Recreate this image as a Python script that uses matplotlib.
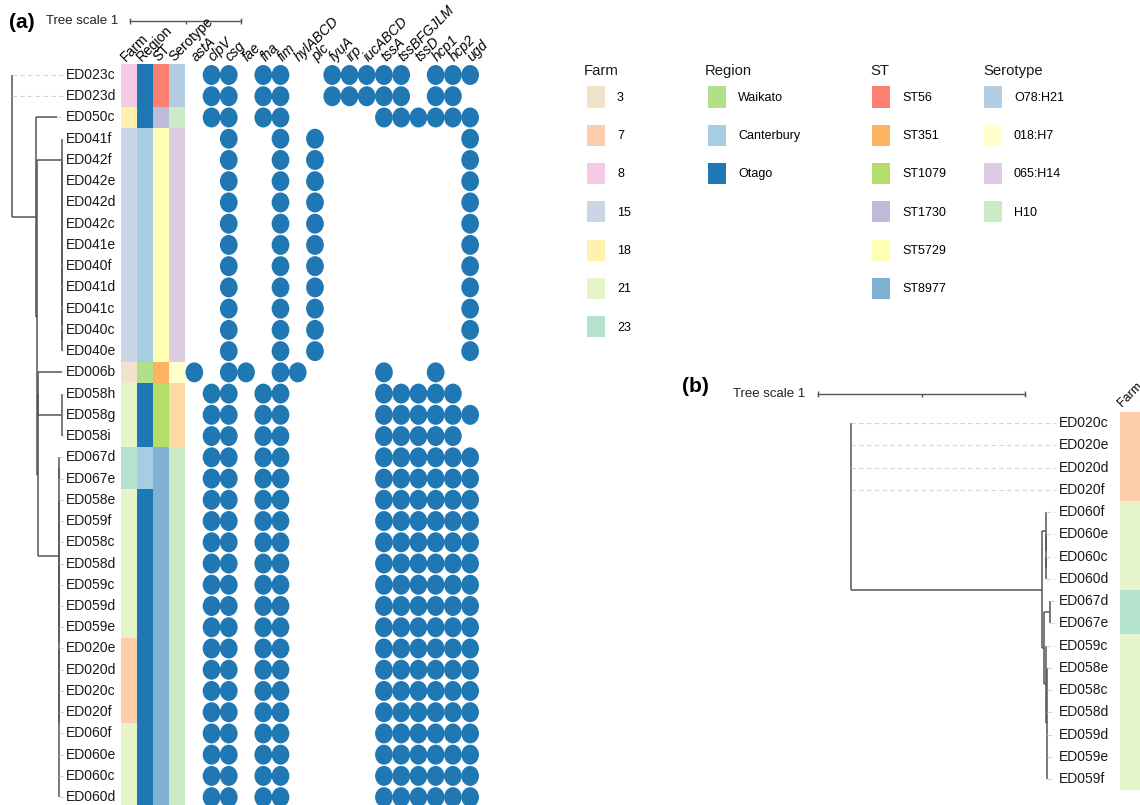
import matplotlib.pyplot as plt
from matplotlib.patches import Ellipse, Patch

plt.rcParams['font.family'] = ['Liberation Sans', 'DejaVu Sans']

# ---- panel (a) data ----
isolates_a = ['ED023c', 'ED023d', 'ED050c', 'ED041f', 'ED042f', 'ED042e', 'ED042d',
              'ED042c', 'ED041e', 'ED040f', 'ED041d', 'ED041c', 'ED040c', 'ED040e',
              'ED006b', 'ED058h', 'ED058g', 'ED058i', 'ED067d', 'ED067e', 'ED058e',
              'ED059f', 'ED058c', 'ED058d', 'ED059c', 'ED059d', 'ED059e', 'ED020e',
              'ED020d', 'ED020c', 'ED020f', 'ED060f', 'ED060e', 'ED060c', 'ED060d']
farm_a = ['8', '8', '18'] + ['15'] * 11 + ['3'] + ['21'] * 3 + ['23'] * 2 + ['21'] * 7 + ['7'] * 4 + ['21'] * 4
region_a = ['Otago'] * 3 + ['Canterbury'] * 11 + ['Waikato'] + ['Otago'] * 3 + ['Canterbury'] * 2 + ['Otago'] * 15
st_a = ['ST56', 'ST56', 'ST1730'] + ['ST5729'] * 11 + ['ST351'] + ['ST1079'] * 3 + ['ST8977'] * 17
serotype_a = ['O78:H21', 'O78:H21', 'H10'] + ['065:H14'] * 11 + ['018:H7'] + ['other'] * 3 + ['H10'] * 17

genes = ['astA', 'clpV', 'csg', 'fae', 'fha', 'fim', 'hylABCD', 'plc', 'fyuA', 'irp',
         'iucABCD', 'tssA', 'tssBFGJLM', 'tssD', 'hcp1', 'hcp2', 'ugd']

p_023c = ['clpV', 'csg', 'fha', 'fim', 'fyuA', 'irp', 'iucABCD', 'tssA', 'tssBFGJLM', 'hcp1', 'hcp2', 'ugd']
p_023d = ['clpV', 'csg', 'fha', 'fim', 'fyuA', 'irp', 'iucABCD', 'tssA', 'tssBFGJLM', 'hcp1', 'hcp2']
p_050c = ['clpV', 'csg', 'fha', 'fim', 'tssA', 'tssBFGJLM', 'tssD', 'hcp1', 'hcp2', 'ugd']
p_041 = ['csg', 'fim', 'plc', 'ugd']
p_006b = ['astA', 'csg', 'fae', 'fim', 'hylABCD', 'tssA', 'hcp1']
p_058 = ['clpV', 'csg', 'fha', 'fim', 'tssA', 'tssBFGJLM', 'tssD', 'hcp1', 'hcp2']
p_all = p_058 + ['ugd']
gene_sets_a = [p_023c, p_023d, p_050c] + [p_041] * 11 + [p_006b, p_058, p_all, p_058] + [p_all] * 17


def ladder(names, length):
    node = (names[-1], 0.0)
    for n in reversed(names[:-1]):
        node = ([(n, 0.0), node], 0.0)
    return (node[0], length)


def clade(names, length):
    return ([(n, 0.0) for n in names], length)


# tree: (name, branch length) for tips, ([children], branch length) for nodes
tree_a = ([
    ('ED023c', 0.0),
    ('ED023d', 0.0),
    ([
        ('ED050c', 0.19),
        ([
            ladder(isolates_a[3:14], 0.222),
            ([
                ([
                    ('ED006b', 0.21),
                    clade(['ED058h', 'ED058g', 'ED058i'], 0.21),
                ], 0.007),
                ([
                    clade(['ED067d', 'ED067e'], 0.0),
                    ([
                        clade(isolates_a[20:27], 0.0),
                        clade(isolates_a[27:35], 0.0),
                    ], 0.0),
                ], 0.193),
            ], 0.004),
        ], 0.014),
    ], 0.213),
], 0.0)

# ---- panel (b) data ----
isolates_b = ['ED020c', 'ED020e', 'ED020d', 'ED020f', 'ED060f', 'ED060e', 'ED060c',
              'ED060d', 'ED067d', 'ED067e', 'ED059c', 'ED058e', 'ED058c', 'ED058d',
              'ED059d', 'ED059e', 'ED059f']
farm_b = ['7'] * 4 + ['21'] * 4 + ['23'] * 2 + ['21'] * 7

tree_b = ([
    ('ED020c', 0.0),
    ('ED020e', 0.0),
    ('ED020d', 0.0),
    ('ED020f', 0.0),
    ([
        ladder(isolates_b[4:8], 0.019),
        ([
            clade(['ED067d', 'ED067e'], 0.03),
            ([
                ('ED059c', 0.0),
                clade(isolates_b[11:17], 0.007),
            ], 0.007),
        ], 0.01),
    ], 0.923),
], 0.0)

farm_colors = {'3': '#f1e2cc', '7': '#fdcdac', '8': '#f4cae4', '15': '#cbd5e8',
               '18': '#fff2ae', '21': '#e6f5c9', '23': '#b3e2cd'}
region_colors = {'Waikato': '#b2df8a', 'Canterbury': '#a6cee3', 'Otago': '#1f78b4'}
st_colors = {'ST56': '#fb8072', 'ST351': '#fdb462', 'ST1079': '#b3de69',
             'ST1730': '#bebada', 'ST5729': '#ffffb3', 'ST8977': '#80b1d3'}
sero_colors = {'O78:H21': '#b3cde3', '018:H7': '#ffffcc', '065:H14': '#decbe4', 'H10': '#ccebc5'}
sero_extra = {'other': '#fed9a6'}
DOT = '#1f78b4'
LINE = '#555555'

W, H = 1140, 805
fig = plt.figure(figsize=(W / 100, H / 100), dpi=100)


def px_axes(left, top, width, height):
    ax = fig.add_axes([left / W, 1 - (top + height) / H, width / W, height / H])
    ax.set_axis_off()
    return ax


def layout(node, x0, rows, segs):
    name, length = node
    x = x0 + length
    if isinstance(name, str):
        segs['tips'].append((name, x, rows[name]))
        return x, rows[name]
    kids = [layout(c, x, rows, segs) for c in name]
    segs['v'].append((x, kids[0][1], kids[-1][1]))
    for kx, ky in kids:
        if kx > x:
            segs['h'].append((ky, x, kx))
    return x, (kids[0][1] + kids[-1][1]) / 2


def draw_tree(ax, tree, order, label_x, guide_end, fs):
    rows = {n: i for i, n in enumerate(order)}
    segs = {'tips': [], 'v': [], 'h': []}
    layout(tree, 0.0, rows, segs)
    for x, y0, y1 in segs['v']:
        ax.vlines(x, y0, y1, color=LINE, lw=1.1)
    for y, x0, x1 in segs['h']:
        ax.hlines(y, x0, x1, color=LINE, lw=1.1)
    for name, x, y in segs['tips']:
        if x < guide_end:
            ax.plot([x, guide_end], [y, y], color='#d4d4d4', lw=0.8,
                    dashes=(4, 3), solid_capstyle='butt')
        ax.text(label_x, y, name, fontsize=fs, va='center', ha='left', color='#1a1a1a')


def draw_scale(ax, x0, y, tick, gap):
    ax.plot([x0, x0 + 1], [y, y], color=LINE, lw=1, clip_on=False)
    ax.vlines([x0, x0 + 1], y - tick, y + tick, color=LINE, lw=1, clip_on=False)
    ax.vlines(x0 + 0.5, y, y + tick, color=LINE, lw=1, clip_on=False)
    ax.text(x0 - gap, y, 'Tree scale 1', fontsize=9.5, ha='right', va='center',
            color='#222222', clip_on=False)


# ---- panel (a) ----
ROW_A = 21.24
n_a = len(isolates_a)
top_a = 75 - ROW_A / 2
UNIT_A = 111

ax_ta = px_axes(0, top_a, 121, n_a * ROW_A)
ax_ta.set_xlim(-12 / UNIT_A, 109 / UNIT_A)
ax_ta.set_ylim(n_a - 0.5, -0.5)
draw_tree(ax_ta, tree_a, isolates_a, 54 / UNIT_A, 52 / UNIT_A, 10)
draw_scale(ax_ta, 118 / UNIT_A, (21 - 75) / ROW_A, 3 / ROW_A, 12 / UNIT_A)
fig.text(9 / W, 1 - 22 / H, '(a)', fontsize=15, fontweight='bold', va='center')

ax_ma = px_axes(121, top_a, 369, n_a * ROW_A)
ax_ma.set_xlim(0, 369)
ax_ma.set_ylim(n_a - 0.5, -0.5)

STRIP = 16
strip_cols = [('Farm', farm_a, farm_colors),
              ('Region', region_a, region_colors),
              ('ST', st_a, st_colors),
              ('Serotype', serotype_a, {**sero_colors, **sero_extra})]
rows_a = list(range(n_a))
for k, (title, vals, cmap) in enumerate(strip_cols):
    ax_ma.barh(rows_a, STRIP, left=k * STRIP, height=1.0,
               color=[cmap[v] for v in vals], edgecolor='none')
    ax_ma.text(k * STRIP + 5, -0.6, title, rotation=45, rotation_mode='anchor',
               ha='left', va='baseline', fontsize=10, clip_on=False)

GENE0, GENE_STEP = 73.3, 17.24
for j, g in enumerate(genes):
    gx = GENE0 + j * GENE_STEP
    ax_ma.text(gx + 2, -0.6, g, rotation=45, rotation_mode='anchor', ha='left',
               va='baseline', fontsize=10, style='italic', clip_on=False)
    for i, present in enumerate(gene_sets_a):
        if g in present:
            ax_ma.add_patch(Ellipse((gx, i), 17.7, 0.94, color=DOT, lw=0))

# ---- legends ----
legend_kw = dict(loc='upper left', frameon=False, borderpad=0, borderaxespad=0,
                 fontsize=9, handlelength=1.44, handleheight=2.21,
                 handletextpad=0.96, labelspacing=1.38, bbox_transform=fig.transFigure)
legend_sets = [('Farm', farm_colors, 584, 587),
               ('Region', region_colors, 705, 708),
               ('ST', st_colors, 870, 872),
               ('Serotype', sero_colors, 983, 984)]
for title, cmap, tx, hx in legend_sets:
    fig.text(tx / W, 1 - 71 / H, title, fontsize=10.7, va='center', color='#1a1a1a')
    handles = [Patch(facecolor=c, edgecolor='none', label=k) for k, c in cmap.items()]
    fig.legend(handles=handles, bbox_to_anchor=(hx / W, 1 - 86.5 / H), **legend_kw)

# ---- panel (b) ----
ROW_B = 22.25
n_b = len(isolates_b)
top_b = 423 - ROW_B / 2
UNIT_B = 207

ax_tb = px_axes(690, top_b, 430, n_b * ROW_B)
ax_tb.set_xlim((690 - 851) / UNIT_B, (1120 - 851) / UNIT_B)
ax_tb.set_ylim(n_b - 0.5, -0.5)
draw_tree(ax_tb, tree_b, isolates_b, 208 / UNIT_B, 204 / UNIT_B, 10)
draw_scale(ax_tb, (818 - 851) / UNIT_B, (394 - 423) / ROW_B, 3 / ROW_B, 13 / UNIT_B)
fig.text(682 / W, 1 - 387 / H, '(b)', fontsize=15, fontweight='bold', va='center')

ax_sb = px_axes(1120, top_b, 20, n_b * ROW_B)
ax_sb.set_xlim(0, 20)
ax_sb.set_ylim(n_b - 0.5, -0.5)
ax_sb.barh(list(range(n_b)), 20, left=0, height=1.0,
           color=[farm_colors[v] for v in farm_b], edgecolor='none')
# the column title runs off the right edge, as the strip does
ax_sb.text(2, -0.72, 'Farm', rotation=45, rotation_mode='anchor', ha='left',
           va='baseline', fontsize=9, clip_on=False)

fig.savefig('out.png', dpi=100)
